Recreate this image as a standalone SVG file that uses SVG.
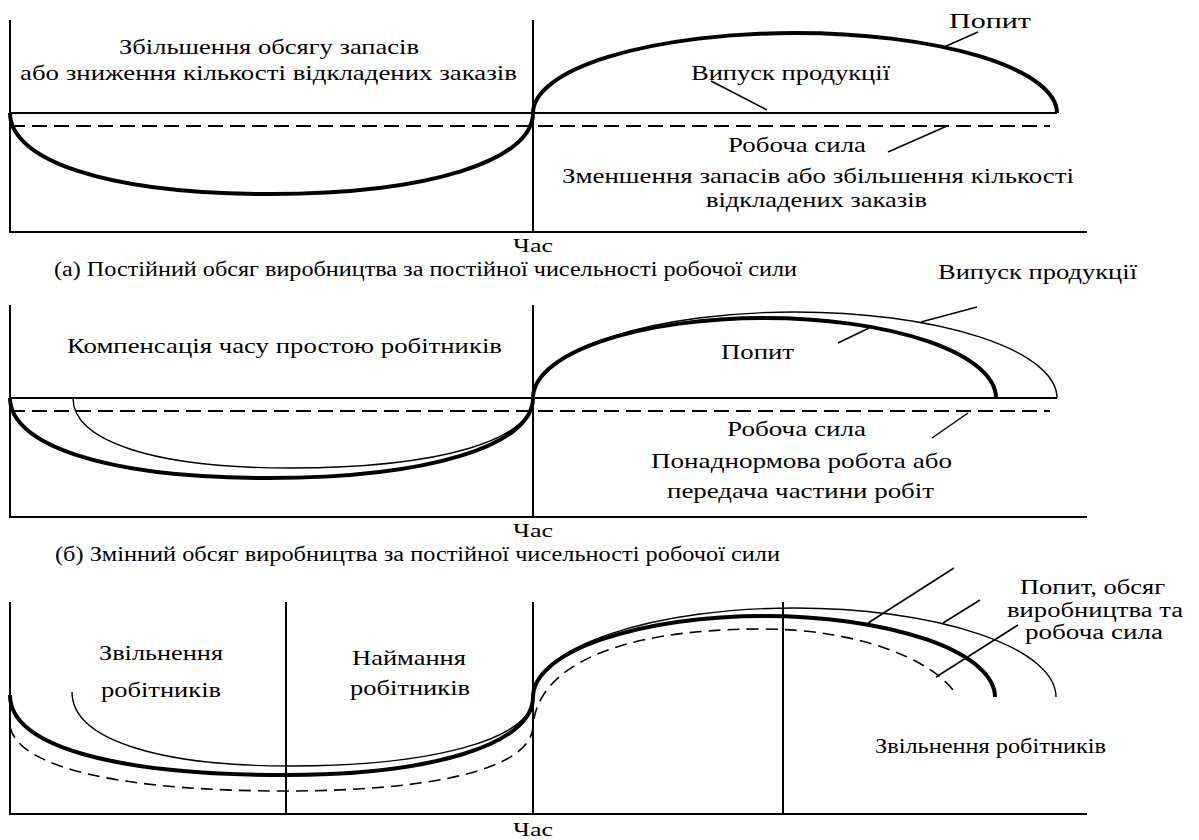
<svg xmlns="http://www.w3.org/2000/svg" width="1199" height="840" viewBox="0 0 1199 840" font-family="'Liberation Serif', 'DejaVu Serif', serif">
<style>
text{font-family:'Liberation Serif','Times New Roman','DejaVu Serif',serif;fill:#000;font-size:22px}
.cap{font-size:20px}
.sm{font-size:20px}
.t{font-size:19px}
.ax{stroke:#000;stroke-width:2;fill:none}
.ln{stroke:#000;stroke-width:2;fill:none}
.dash{stroke:#000;stroke-width:2;fill:none;stroke-dasharray:15 7}
.dc{stroke:#000;stroke-width:1.6;fill:none;stroke-dasharray:12 7}
.thick{stroke:#000;stroke-width:4;fill:none}
.thin{stroke:#000;stroke-width:1.4;fill:none}
.ld{stroke:#000;stroke-width:1.5;fill:none}
</style>
<rect width="1199" height="840" fill="#fff"/>
<g id="panel-a">
<path class="ax" d="M10,20 V232 H1087 M533,20 V232"/>
<path class="ln" d="M10,113 H1057"/>
<path class="dash" d="M10,126 H1050"/>
<path class="thick" d="M10,113 C10,158 100,194 270,194 C430,194 533,160 533,113 A262,80 0 0 1 1057,113"/>
<text x="119" y="54" textLength="300" lengthAdjust="spacingAndGlyphs">Збільшення обсягу запасів</text>
<text x="20" y="80" textLength="497" lengthAdjust="spacingAndGlyphs">або зниження кількості відкладених заказів</text>
<text x="949" y="28" textLength="82" lengthAdjust="spacingAndGlyphs">Попит</text>
<text x="691" y="80" textLength="199" lengthAdjust="spacingAndGlyphs">Випуск продукції</text>
<text x="728" y="152" textLength="138" lengthAdjust="spacingAndGlyphs">Робоча сила</text>
<text x="562" y="183" textLength="512" lengthAdjust="spacingAndGlyphs">Зменшення запасів або збільшення кількості</text>
<text x="706" y="207" textLength="221" lengthAdjust="spacingAndGlyphs">відкладених заказів</text>
<text class="t" x="513" y="252" textLength="40" lengthAdjust="spacingAndGlyphs">Час</text>
<text class="cap" x="54" y="276" textLength="743" lengthAdjust="spacingAndGlyphs">(а) Постійний обсяг виробництва за постійної чисельності робочої сили</text>
</g>
<g id="panel-b">
<path class="ax" d="M10,305 V517 H1087 M533,305 V517"/>
<path class="ln" d="M10,398 H1057"/>
<path class="dash" d="M10,411 H1050"/>
<path class="thick" d="M10,398 C10,443 100,478 268,478 C430,478 533,445 533,398 A231.5,80 0 0 1 996,398"/>
<path class="thin" d="M73,398 C73,440 150,468 290,468 C440,468 533,440 533,398 A262,86 0 0 1 1057,398"/>
<text x="938" y="279" textLength="199" lengthAdjust="spacingAndGlyphs">Випуск продукції</text>
<text x="67" y="353" textLength="435" lengthAdjust="spacingAndGlyphs">Компенсація часу простою робітників</text>
<text x="721" y="359" textLength="73" lengthAdjust="spacingAndGlyphs">Попит</text>
<text x="727" y="436" textLength="139" lengthAdjust="spacingAndGlyphs">Робоча сила</text>
<text x="651" y="468" textLength="301" lengthAdjust="spacingAndGlyphs">Понаднормова робота або</text>
<text x="667" y="498" textLength="267" lengthAdjust="spacingAndGlyphs">передача частини робіт</text>
<text class="t" x="513" y="537" textLength="40" lengthAdjust="spacingAndGlyphs">Час</text>
<text class="cap" x="55" y="561" textLength="725" lengthAdjust="spacingAndGlyphs">(б) Змінний обсяг виробництва за постійної чисельності робочої сили</text>
</g>
<g id="panel-c">
<path class="ax" d="M10,602 V814 H1087 M286,602 V814 M533,602 V814 M783,602 V814"/>
<path class="thick" d="M10,695 C10,745 110,775 285,775 C430,775 533,745 533,697 A231,81 0 0 1 995,697"/>
<path class="thin" d="M72,692 C72,740 160,766 290,766 C430,766 533,740 533,697 A261.5,89 0 0 1 1056,697"/>
<path class="dc" d="M10,727 C20,770 130,791 285,791 C430,791 530,770 533,727 C536,670 610,629 762,629 C860,629 930,660 953,690"/>
<text x="99" y="660" textLength="124" lengthAdjust="spacingAndGlyphs">Звільнення</text>
<text x="101" y="697" textLength="120" lengthAdjust="spacingAndGlyphs">робітників</text>
<text x="352" y="665" textLength="114" lengthAdjust="spacingAndGlyphs">Наймання</text>
<text x="350" y="695" textLength="120" lengthAdjust="spacingAndGlyphs">робітників</text>
<text class="sm" x="1020" y="594" textLength="145" lengthAdjust="spacingAndGlyphs">Попит, обсяг</text>
<text class="sm" x="1007" y="617" textLength="176" lengthAdjust="spacingAndGlyphs">виробництва та</text>
<text class="sm" x="1025" y="639" textLength="138" lengthAdjust="spacingAndGlyphs">робоча сила</text>
<text class="cap" x="875" y="753" textLength="231" lengthAdjust="spacingAndGlyphs">Звільнення робітників</text>
<text class="t" x="513" y="836" textLength="40" lengthAdjust="spacingAndGlyphs">Час</text>
</g>
<g id="connectors">
<path class="ld" d="M978,32 L944,47"/>
<path class="ld" d="M711,81 L767,110"/>
<path class="ld" d="M888,152 L947,126"/>
<path class="ld" d="M977,307 L921,322"/>
<path class="ld" d="M838,343 L869,328"/>
<path class="ld" d="M932,438 L968,413"/>
<path class="ld" d="M954,568 L868,623"/>
<path class="ld" d="M980,600 L943,623"/>
<path class="ld" d="M1018,625 L936,677"/>
</g>
</svg>
